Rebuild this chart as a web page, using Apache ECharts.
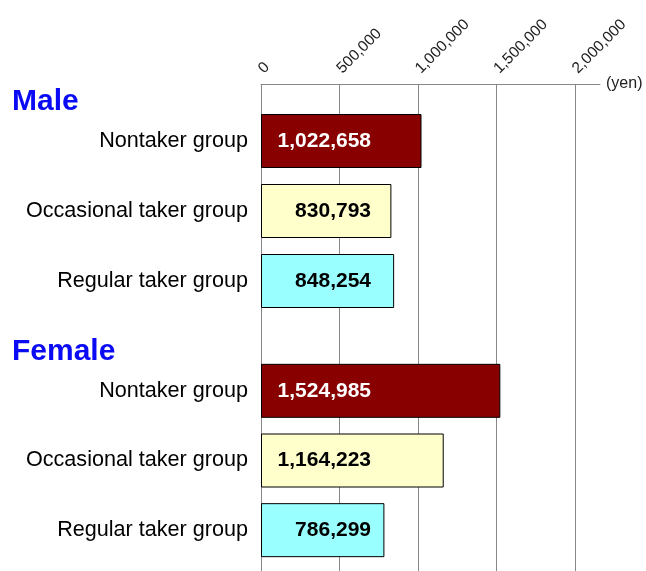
<!DOCTYPE html>
<html>
<head>
<meta charset="utf-8">
<script src="https://cdn.jsdelivr.net/npm/echarts@6/dist/echarts.min.js"></script>
<style>
html,body{margin:0;padding:0;background:#fff;}
#chart{width:646px;height:571px;}
</style>
</head>
<body>
<div id="chart"></div>
<script>
const categories = ['Nontaker group', 'Occasional taker group', 'Regular taker group'];
const maleValues = [1022658, 830793, 848254];
const femaleValues = [1524985, 1164223, 786299];
const groupTitles = ['Male', 'Female'];
const tickLabels = ['0', '500,000', '1,000,000', '1,500,000', '2,000,000'];
const barColors = ['#880000', '#ffffcc', '#99ffff'];
const labelColors = ['#ffffff', '#000000', '#000000'];

const FONT = '"Liberation Sans", Arial, Helvetica, sans-serif';
const fmt = v => Math.round(v).toLocaleString('en-US');
const AXMAX = 2160000;

function makeSeries(values, idx) {
  return {
    type: 'bar',
    xAxisIndex: idx,
    yAxisIndex: idx,
    barWidth: 54,
    data: values.map((v, i) => ({
      value: v,
      itemStyle: { color: barColors[i], borderColor: '#000', borderWidth: 1 },
      label: { color: labelColors[i] }
    })),
    label: {
      show: true,
      position: [110, '50%'],
      align: 'right',
      verticalAlign: 'middle',
      fontFamily: FONT,
      fontWeight: 'bold',
      fontSize: 21,
      formatter: p => fmt(p.value)
    },
    animation: false
  };
}

function catAxis(idx) {
  return {
    gridIndex: idx,
    type: 'category',
    inverse: true,
    data: categories,
    axisLine: { show: false },
    axisTick: { show: false },
    splitLine: { show: false },
    axisLabel: { fontFamily: FONT, fontSize: 21.6, color: '#000', margin: 13 }
  };
}

function hiddenX(idx) {
  return { gridIndex: idx, type: 'value', min: 0, max: AXMAX, show: false, splitLine: { show: false } };
}

const chart = echarts.init(document.getElementById('chart'), null, { renderer: 'canvas' });
chart.setOption({
  animation: false,
  backgroundColor: '#fff',
  title: [
    { text: groupTitles[0], left: 7, top: 82, textStyle: { fontFamily: FONT, fontSize: 30, fontWeight: 'bold', color: '#0a0af5' } },
    { text: groupTitles[1], left: 7, top: 332, textStyle: { fontFamily: FONT, fontSize: 30, fontWeight: 'bold', color: '#0a0af5' } }
  ],
  grid: [
    { left: 261, right: 46, top: 84, bottom: -2, containLabel: false },
    { left: 261, right: 46, top: 106, height: 210, containLabel: false },
    { left: 261, right: 46, top: 356, height: 209, containLabel: false }
  ],
  xAxis: [
    {
      gridIndex: 0,
      type: 'value',
      position: 'top',
      min: 0,
      max: AXMAX,
      interval: 500000,
      axisLine: { show: true, lineStyle: { color: '#888', width: 1 } },
      axisTick: { show: false },
      axisLabel: {
        rotate: -45,
        margin: 13,
        showMaxLabel: false,
        fontFamily: FONT,
        fontSize: 15.5,
        color: '#222',
        formatter: v => { const i = Math.round(v / 500000); return (v % 500000 === 0 && i < tickLabels.length) ? tickLabels[i] : ''; }
      },
      splitLine: { show: true, showMaxLine: false, lineStyle: { color: '#888', width: 1 } },
      name: '(yen)',
      nameLocation: 'end',
      nameGap: 6,
      nameTextStyle: { fontFamily: FONT, fontSize: 16, color: '#222' }
    },
    hiddenX(1),
    hiddenX(2)
  ],
  yAxis: [
    { gridIndex: 0, type: 'category', data: [''], show: false },
    catAxis(1),
    catAxis(2)
  ],
  series: [makeSeries(maleValues, 1), makeSeries(femaleValues, 2)]
});
</script>
</body>
</html>
